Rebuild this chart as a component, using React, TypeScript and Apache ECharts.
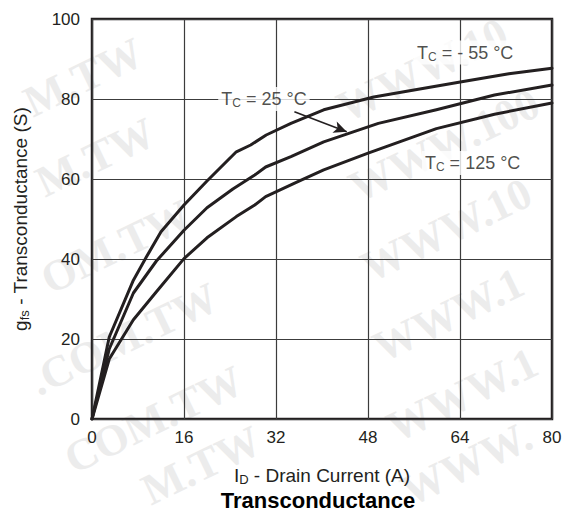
import React, { useEffect, useRef } from "react";
import * as echarts from "echarts";

// Drain current ticks (A) and transconductance ticks (S)
const xTicks = [0, 16, 32, 48, 64, 80];
const yTicks = [0, 20, 40, 60, 80, 100];

// gfs vs ID at three case temperatures: [ID (A), gfs (S)]
const curveMinus55: [number, number][] = [
  [0, 0], [3, 20.5], [7.2, 34.7], [9.5, 40.6], [12, 46.8], [16, 53.5],
  [20, 59.5], [25.1, 66.8], [27.6, 68.5], [30.3, 71], [34.6, 73.9],
  [40.3, 77.3], [49, 80.5], [56.5, 82.4], [64.3, 84.3], [72.5, 86.3], [80, 87.7],
];
const curve25: [number, number][] = [
  [0, 0], [3, 17.5], [7.2, 31.5], [11.2, 39.5], [16, 47.2], [20, 52.8],
  [24.5, 57.5], [28.3, 61], [30.2, 63], [34.6, 65.6], [40.3, 69.3],
  [49.8, 73.9], [59.9, 77.3], [70, 81], [80, 83.5],
];
const curve125: [number, number][] = [
  [0, 0], [3, 15], [7.2, 24.8], [11.2, 31.8], [16, 40.1], [20, 45.3],
  [25.1, 50.6], [28.3, 53.5], [30.2, 55.6], [35.9, 59.4], [40.3, 62.3],
  [47.9, 66.4], [59.9, 72.6], [70, 76.2], [80, 79],
];

// Temperature callouts, anchored in data coordinates
const curveLabels = [
  { at: [64.9, 91.6], text: "{m|T}{s|C}{m| = - 55 °C}" },
  { at: [29.9, 80], text: "{m|T}{s|C}{m| = 25 °C}" },
  { at: [66.2, 64], text: "{m|T}{s|C}{m| = 125 °C}" },
];
// Pointer from the 25 °C callout to its curve
const arrowFrom = [35.2, 76.8];
const arrowTo = [44.3, 71.8];

const xName = "{m|I}{s|D}{m| - Drain Current (A)}";
const yName = "{m|g}{s|fs}{m| - Transconductance (S)}";
const chartTitle = "Transconductance";

const INK = "#231f20";
const FONT = "'Liberation Sans', Arial, Helvetica, sans-serif";
const STAMP_FONT = "bold 44px 'Liberation Serif', 'DejaVu Serif', serif";
const STAMP_FILL = "#ececec";

const richText = (size: number) => ({
  m: { fontSize: size, lineHeight: size + 2, color: INK, fontFamily: FONT },
  s: {
    fontSize: Math.round(size * 0.66),
    lineHeight: Math.round(size * 0.66),
    verticalAlign: "bottom" as const,
    color: INK,
    fontFamily: FONT,
  },
});

// Faint background stamp fragments: [text, x, y, align]
const stampPieces: [string, number, number, "left" | "right"][] = [
  ["WWW.10", 340, 110, "left"],
  ["WWW.100", 352, 190, "left"],
  ["WWW.10", 364, 270, "left"],
  ["WWW.1", 376, 350, "left"],
  ["WWW.1", 390, 430, "left"],
  ["WWW.", 404, 494, "left"],
  ["M.TW", 140, 50, "right"],
  ["M.TW", 152, 130, "right"],
  ["OM.TW", 188, 212, "right"],
  [".COM.TW", 215, 295, "right"],
  ["COM.TW", 240, 378, "right"],
  ["M.TW", 258, 438, "right"],
];

export default function App() {
  const ref = useRef<HTMLDivElement>(null);

  useEffect(() => {
    if (!ref.current) return;
    const chart = echarts.init(ref.current, null, { renderer: "svg" });

    const stampEls = stampPieces.map(([text, x, y, align]) => ({
      type: "text",
      x,
      y,
      rotation: 0.45,
      z: -10,
      silent: true,
      style: {
        text,
        fill: STAMP_FILL,
        font: STAMP_FONT,
        textAlign: align,
        textVerticalAlign: "middle",
      },
    }));

    const lineSeries = (name: string, data: [number, number][], extra: any = {}) => ({
      type: "line",
      name,
      data,
      symbol: "none",
      smooth: false,
      z: 3,
      lineStyle: { color: INK, width: 3, join: "round", cap: "round" },
      ...extra,
    });

    chart.setOption({
      animation: false,
      backgroundColor: "#ffffff",
      grid: {
        left: 92, right: 18, top: 19, bottom: 100,
        show: true, borderColor: INK, borderWidth: 2.5, backgroundColor: "transparent",
      },
      xAxis: {
        type: "value",
        min: xTicks[0],
        max: xTicks[xTicks.length - 1],
        interval: xTicks[1] - xTicks[0],
        axisLine: { show: false },
        axisTick: { show: false },
        splitLine: { show: true, lineStyle: { color: "#3c3c3c", width: 1.2 } },
        axisLabel: { color: INK, fontSize: 17, fontFamily: FONT, margin: 10 },
        name: xName,
        nameLocation: "middle",
        nameGap: 46,
        nameTextStyle: { rich: richText(19) },
      },
      yAxis: {
        type: "value",
        min: yTicks[0],
        max: yTicks[yTicks.length - 1],
        interval: yTicks[1] - yTicks[0],
        axisLine: { show: false },
        axisTick: { show: false },
        splitLine: { show: true, lineStyle: { color: "#3c3c3c", width: 1.2 } },
        axisLabel: { color: INK, fontSize: 17, fontFamily: FONT, margin: 12 },
        name: yName,
        nameLocation: "middle",
        nameGap: 61,
        nameTextStyle: { rich: richText(19) },
      },
      graphic: [
        ...stampEls,
        {
          type: "text",
          x: 318,
          y: 500,
          z: 5,
          style: {
            text: chartTitle,
            fill: "#000",
            font: `bold 22px ${FONT}`,
            textAlign: "center",
            textVerticalAlign: "middle",
          },
        },
      ],
      series: [
        lineSeries("TC = -55 °C", curveMinus55),
        lineSeries("TC = 25 °C", curve25, {
          markLine: {
            silent: true,
            animation: false,
            symbol: ["none", "arrow"],
            symbolSize: [9, 13],
            label: { show: false },
            lineStyle: { color: INK, width: 1.6, type: "solid" },
            data: [[{ coord: arrowFrom }, { coord: arrowTo }]],
          },
        }),
        lineSeries("TC = 125 °C", curve125),
        {
          type: "scatter",
          z: 6,
          symbolSize: 1,
          itemStyle: { color: "rgba(0,0,0,0)" },
          silent: true,
          data: curveLabels.map((l) => ({
            value: l.at,
            label: {
              show: true,
              position: "inside",
              formatter: l.text,
              backgroundColor: "#ffffff",
              padding: [2, 3, 2, 3],
              rich: richText(18),
            },
          })),
        },
      ],
    });

    return () => chart.dispose();
  }, []);

  return (
    <div
      ref={ref}
      style={{ position: "absolute", left: 0, top: 0, width: 570, height: 519 }}
    />
  );
}
